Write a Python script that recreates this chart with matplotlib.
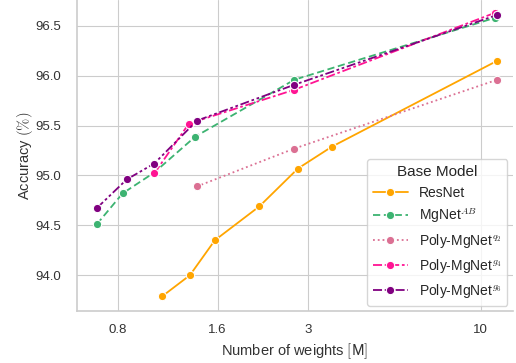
import numpy as np
import matplotlib
matplotlib.use("Agg")
import matplotlib.pyplot as plt
import seaborn as sns

# values
resnet_w = [1.09, 1.32, 1.57, 2.14, 2.80, 3.55, 11.2]
resnet_acc = [93.79, 94.00, 94.35, 94.69, 95.07, 95.29, 96.15]

mgnet_w = [0.69, 0.826, 1.03, 1.37, 2.73, 11.0]
mgnet_acc = [94.51, 94.82, 95.03, 95.39, 95.96, 96.58]

q2_w = [1.386, 2.73, 11.2]
q2_acc = [94.89, 95.27, 95.96]

g4_w = [1.03, 1.31, 2.73, 11.0]
g4_acc = [95.02, 95.52, 95.86, 96.63]

g6_w = [0.689, 0.85, 1.03, 1.386, 2.73, 11.2]
g6_acc = [94.67, 94.96, 95.12, 95.55, 95.91, 96.61]

x_ticks = [0.8, 1.6, 3, 10]
x_tick_labels = ['0.8', '1.6', '3', '10']
y_ticks = [94.0, 94.5, 95.0, 95.5, 96.0, 96.5]

sns.set_style('whitegrid')
plt.rcParams['font.family'] = ['Liberation Sans', 'DejaVu Sans']
plt.rcParams['mathtext.fontset'] = 'cm'

fig = plt.figure(figsize=(5.16, 3.63), dpi=100)
ax = fig.add_axes([0.149, 0.143, 0.845, 0.857])

mk = dict(marker='o', markersize=6, markeredgecolor='white', markeredgewidth=0.8, linewidth=1.3)
ax.plot(resnet_w, resnet_acc, color='#FFA500', linestyle='-', label='ResNet', **mk)
ax.plot(mgnet_w, mgnet_acc, color='#3CB371', dashes=(4, 2), label='MgNet$^{AB}$', **mk)
ax.plot(q2_w, q2_acc, color='#DB7093', linestyle=':', label='Poly-MgNet$^{q_2}$', **mk)
ax.plot(g4_w, g4_acc, color='#FF1493', dashes=(5, 1.5, 1.5, 1.5), label='Poly-MgNet$^{g_4}$', **mk)
ax.plot(g6_w, g6_acc, color='#800080', dashes=(5, 1.5, 1.5, 1.5, 1.5, 1.5), label='Poly-MgNet$^{g_6}$', **mk)

ax.set_xscale('log')
ax.set_xlim(0.601, 12.5)
ax.set_ylim(93.64, 96.76)
ax.set_xticks(x_ticks)
ax.set_xticklabels(x_tick_labels)
ax.xaxis.set_minor_locator(matplotlib.ticker.NullLocator())
ax.set_yticks(y_ticks)
ax.tick_params(labelsize=9.5, colors='#333333')
ax.tick_params(axis='y', pad=8)
ax.tick_params(axis='x', pad=6)
for s in ['top', 'right']:
    ax.spines[s].set_visible(False)
for s in ['left', 'bottom']:
    ax.spines[s].set_color('#cccccc')
    ax.spines[s].set_linewidth(1.2)

ax.set_xlabel('Number of weights $[\\mathsf{M}]$', fontsize=10.5, color='#333333')
ax.set_ylabel('Accuracy $(\\%)$', fontsize=10.5, color='#333333', labelpad=0)

leg = ax.legend(title='Base Model', loc='lower right', fontsize=10, title_fontsize=11,
                frameon=True, borderaxespad=0.4, handlelength=2.5)

fig.savefig('out.png', dpi=100)
